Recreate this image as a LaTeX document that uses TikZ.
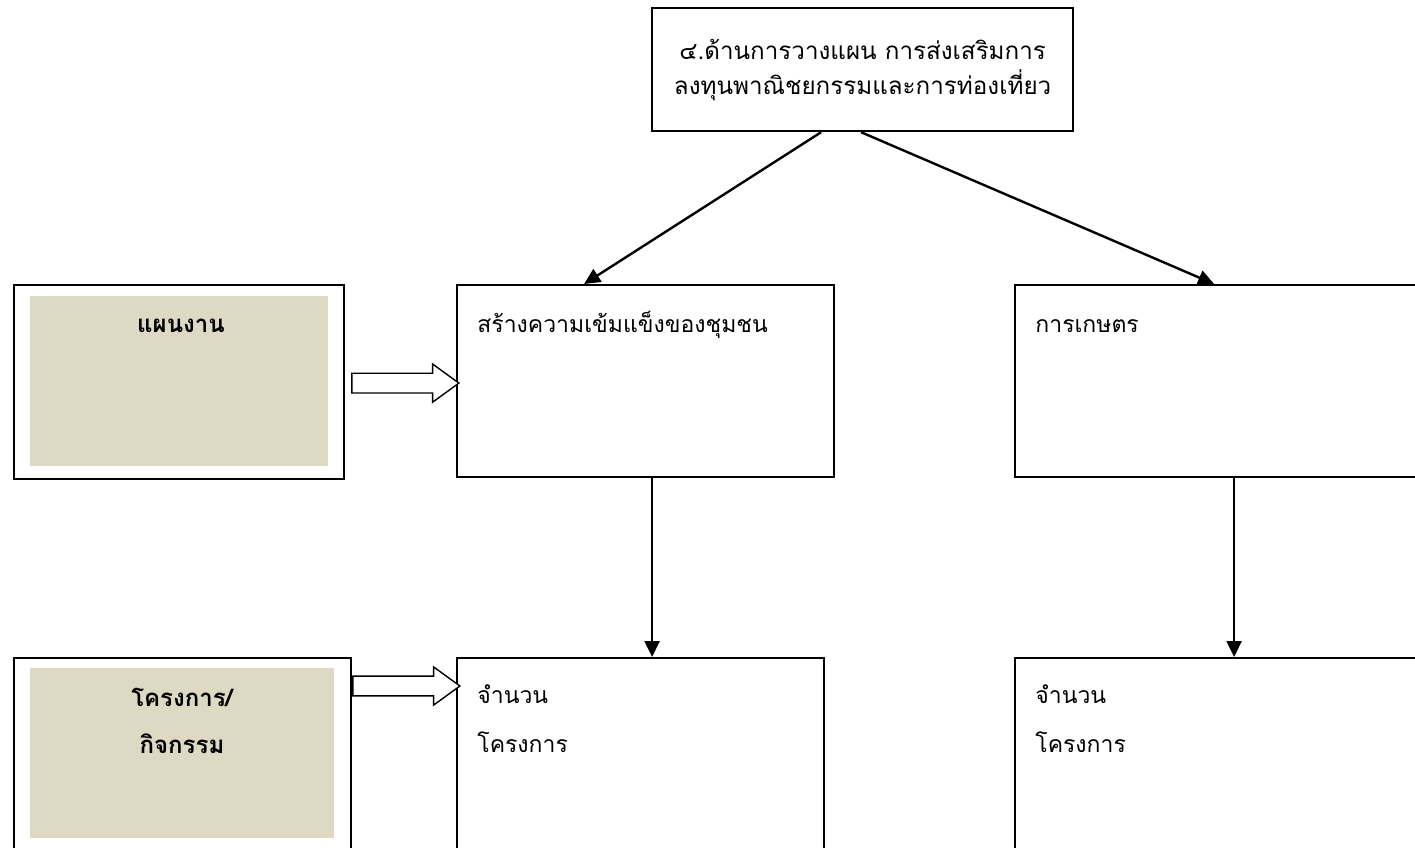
\documentclass[tikz,border=0pt]{standalone}
\usepackage{fontspec}
\setmainfont[Script=Thai]{Loma}
\usetikzlibrary{arrows.meta,shapes.arrows}
\definecolor{tanfill}{RGB}{221,217,195}
\begin{document}
\begin{tikzpicture}[x=0.5pt,y=-0.5pt,
  box/.style={draw,line width=1.1pt,inner sep=0pt,anchor=north west},
  fillbox/.style={fill=tanfill,inner sep=0pt,anchor=north west},
  lbl/.style={anchor=base west,inner sep=0pt,font=\fontsize{11.5}{14}\selectfont},
  blbl/.style={anchor=base,inner sep=0pt,font=\fontsize{12}{14}\selectfont\bfseries},
  arr/.style={line width=1.2pt,-{Triangle[length=8pt,width=7.5pt]}},
  blk/.style={single arrow,draw,fill=white,line width=0.7pt,minimum height=53.5pt,
    inner xsep=0pt,inner ysep=4.6pt,
    single arrow head extend=4.6pt,single arrow tip angle=72,anchor=tail}]
\useasboundingbox (0,0) rectangle (1415,847);
\clip (0,0) rectangle (1415,847);

% top box
\node[box,minimum width=210.5pt,minimum height=61.5pt] (top) at (651,7) {};
\node[align=center,inner sep=0pt,font=\fontsize{12.1}{17.5}\selectfont] (toptxt) at (top.center)
  {๔.ด้านการวางแผน การส่งเสริมการ\\ลงทุนพาณิชยกรรมและการท่องเที่ยว};

% row 1
\node[box,minimum width=165pt,minimum height=97pt] (plan) at (13,284) {};
\node[fillbox,minimum width=149pt,minimum height=85pt] (planfill) at (30,296) {};
\node[blbl] (plantxt) at (181,332) {แผนงาน};

\node[box,minimum width=188.5pt,minimum height=96pt] (mid) at (456,284) {};
\node[lbl] (midtxt) at (477,332) {สร้างความเข้มแข็งของชุมชน};

\node[box,minimum width=220pt,minimum height=96pt] (right) at (1014,284) {};
\node[lbl] (righttxt) at (1035,332) {การเกษตร};

% row 2
\node[box,minimum width=168.5pt,minimum height=100pt] (proj) at (13,657) {};
\node[fillbox,minimum width=152pt,minimum height=85pt] (projfill) at (30,668) {};
\node[blbl] (projtxt1) at (182,706) {โครงการ/};
\node[blbl] (projtxt2) at (182,753) {กิจกรรม};

\node[box,minimum width=183.5pt,minimum height=100pt] (bmid) at (456,657) {};
\node[lbl] (bmidtxt1) at (477,703) {จำนวน};
\node[lbl] (bmidtxt2) at (477,752) {โครงการ};

\node[box,minimum width=220pt,minimum height=100pt] (bright) at (1014,657) {};
\node[lbl] (brighttxt1) at (1035,703) {จำนวน};
\node[lbl] (brighttxt2) at (1035,752) {โครงการ};

% connectors
\draw[arr] ([xshift=-20.75pt]top.south) -- ([xshift=-30.75pt]mid.north);
\draw[arr] ([xshift=-0.75pt]top.south) -- ([xshift=-10.5pt]right.north);
\draw[arr] ([xshift=3.25pt]mid.south) -- ([xshift=3.25pt]mid.south |- bmid.north);
\draw[arr] ([xshift=-0.5pt]right.south) -- ([xshift=-0.5pt]right.south |- bright.north);

% block arrows
\node[blk] (blk1) at ([xshift=3pt,yshift=-0.5pt]plan.east) {};
\node[blk] (blk2) at (proj.north east |- 0,686) {};
\end{tikzpicture}
\end{document}
